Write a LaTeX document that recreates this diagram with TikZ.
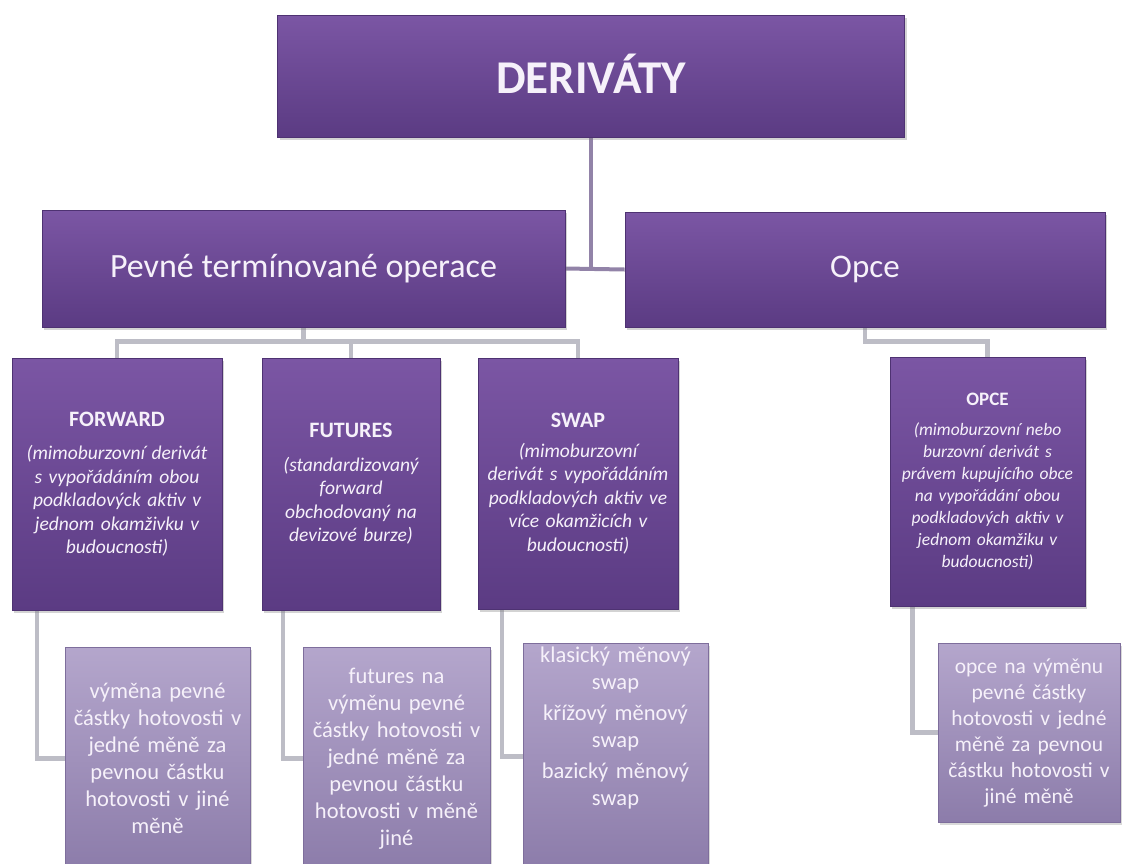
\documentclass[tikz,border=0pt]{standalone}
\usepackage{fontspec}
\setmainfont{Carlito}
\usetikzlibrary{shadows,backgrounds}
\definecolor{dtop}{HTML}{7B56A4}
\definecolor{dbot}{HTML}{5B3B83}
\definecolor{dedge}{HTML}{4E3272}
\definecolor{ltop}{HTML}{B4A6CC}
\definecolor{lbot}{HTML}{8C7CAA}
\definecolor{ledge}{HTML}{7E6E9C}
\definecolor{topconn}{HTML}{9283A8}
\definecolor{subconn}{HTML}{BDBDC6}
\definecolor{txt}{HTML}{F6F1FA}
\begin{document}
\begin{tikzpicture}[x=1pt,y=-1pt,
  darkbox/.style={rectangle, draw=dedge, line width=0.8pt, top color=dtop, bottom color=dbot,
    text=txt, align=center, inner sep=3pt,
    drop shadow={opacity=0.35, shadow xshift=2pt, shadow yshift=-3pt}},
  lightbox/.style={rectangle, draw=ledge, line width=0.8pt, top color=ltop, bottom color=lbot,
    text=txt, align=center, inner sep=3pt,
    drop shadow={opacity=0.3, shadow xshift=2pt, shadow yshift=-3pt}},
  topline/.style={draw=topconn, line width=4pt},
  subline/.style={draw=subconn, line width=4.5pt},
  desc/.style={font=\fontsize{19.5}{23.5}\selectfont\itshape},
  leaf/.style={font=\fontsize{22.5}{27}\selectfont}]
\useasboundingbox (0,0) rectangle (1123,863);

\node[darkbox, minimum width=627pt, minimum height=122pt, font=\fontsize{47}{52}\selectfont\bfseries] (d) at (591,76) {\raisebox{4pt}{DERIVÁTY}};
\node[darkbox, minimum width=523pt, minimum height=117pt, font=\fontsize{34}{40}\selectfont] (p) at (303.5,268.5) {Pevné termínované operace};
\node[darkbox, minimum width=480pt, minimum height=115pt, font=\fontsize{33}{40}\selectfont] (o) at (865,269.5) {Opce};

\node[darkbox, desc, minimum width=210pt, minimum height=252pt, text width=204pt] (fw) at (117,484)
  {{\upshape\bfseries\fontsize{22}{26}\selectfont FORWARD\par}\vspace{10pt}
   (mimoburzovní derivát\\ s vypořádáním obou\\ podkladovýck aktiv v\\ jednom okamživku v\\ budoucnosti)};
\node[darkbox, desc, minimum width=178pt, minimum height=252pt, text width=172pt] (fu) at (351,484)
  {{\upshape\bfseries\fontsize{22}{26}\selectfont FUTURES\par}\vspace{10pt}
   (standardizovaný\\ forward\\ obchodovaný na\\ devizové burze)};
\node[darkbox, desc, minimum width=200pt, minimum height=251pt, text width=194pt] (sw) at (578,483.5)
  {{\upshape\bfseries\fontsize{22}{26}\selectfont SWAP\par}\vspace{6pt}
   (mimoburzovní\\ derivát s vypořádáním\\ podkladových aktiv ve\\ více okamžicích v\\ budoucnosti)};
\node[darkbox, font=\fontsize{17.5}{22}\selectfont\itshape, minimum width=195pt, minimum height=249pt, text width=189pt] (op) at (987.5,481.5)
  {{\upshape\bfseries\fontsize{19}{22}\selectfont OPCE\par}\vspace{8pt}
   (mimoburzovní nebo\\ burzovní derivát s\\ právem kupujícího obce\\ na vypořádání obou\\ podkladových aktiv v\\ jednom okamžiku v\\ budoucnosti)};

\node[lightbox, leaf, minimum width=185pt, minimum height=223pt, text width=179pt] (fwc) at (157.5,758.5)
  {výměna pevné\\ částky hotovosti v\\ jedné měně za\\ pevnou částku\\ hotovosti v jiné\\ měně};
\node[lightbox, leaf, minimum width=187pt, minimum height=223pt, text width=181pt] (fuc) at (396.5,758.5)
  {futures na\\ výměnu pevné\\ částky hotovosti v\\ jedné měně za\\ pevnou částku\\ hotovosti v měně\\ jiné};
\node[lightbox, leaf, minimum width=185pt, minimum height=227pt, text width=179pt] (swc) at (615.5,756.5)
  {\parbox[c][219pt][t]{179pt}{\centering\fontsize{22.5}{27}\selectfont
   klasický měnový\\ swap\par\vspace{4pt}
   křížový měnový\\ swap\par\vspace{4pt}
   bazický měnový\\ swap\par}};
\node[lightbox, font=\fontsize{21.5}{26}\selectfont, minimum width=182pt, minimum height=179pt, text width=176pt] (opc) at (1029,732.5)
  {opce na výměnu\\ pevné částky\\ hotovosti v jedné\\ měně za pevnou\\ částku hotovosti v\\ jiné měně};

\begin{pgfonlayer}{background}
  \draw[topline] (d.south) -- (d.south |- p.east);
  \draw[topline] (p.east) -- (o.west);
  \draw[subline] (p.south) -- ++(0,14) coordinate (pj);
  \draw[subline] (fw.north) |- (pj) -| (sw.north);
  \draw[subline] (fu.north) -- (fu.north |- pj);
  \draw[subline] (o.south) -- ++(0,14) -| (op.north);
  \draw[subline] ([xshift=-80pt]fw.south) |- (fwc.west);
  \draw[subline] ([xshift=-68pt]fu.south) |- (fuc.west);
  \draw[subline] ([xshift=-76pt]sw.south) |- (swc.west);
  \draw[subline] ([xshift=-75pt]op.south) |- (opc.west);
\end{pgfonlayer}
\end{tikzpicture}
\end{document}
